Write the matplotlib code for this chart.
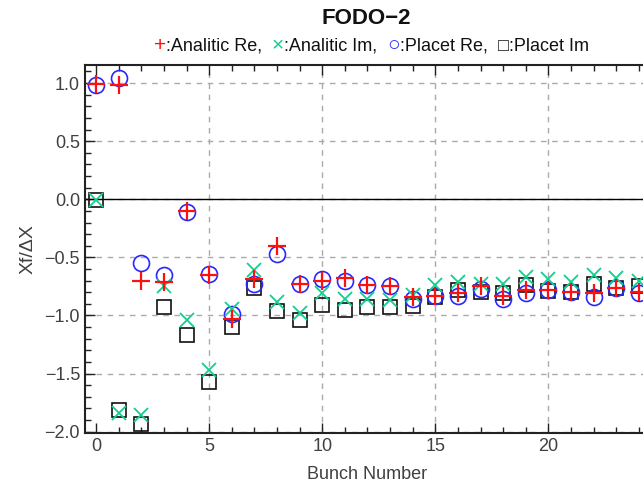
import matplotlib
matplotlib.use("Agg")
import matplotlib.pyplot as plt
from matplotlib.ticker import MultipleLocator
from matplotlib.offsetbox import TextArea, HPacker, AnchoredOffsetbox

plt.rcParams['font.family'] = ['Liberation Sans', 'DejaVu Sans']

bunch = list(range(25))

analitic_re = [0.99, 0.98, -0.70, -0.71, -0.10, -0.65, -1.03, -0.69, -0.40, -0.73,
               -0.70, -0.68, -0.74, -0.75, -0.84, -0.83, -0.81, -0.75, -0.83, -0.78,
               -0.78, -0.80, -0.81, -0.76, -0.80]
analitic_im = [-0.01, -1.84, -1.86, -0.75, -1.04, -1.47, -0.94, -0.61, -0.88, -0.98,
               -0.81, -0.86, -0.86, -0.87, -0.82, -0.74, -0.71, -0.73, -0.73, -0.67,
               -0.69, -0.71, -0.65, -0.68, -0.70]
placet_re = [0.985, 1.04, -0.55, -0.65, -0.11, -0.64, -0.99, -0.73, -0.47, -0.73,
             -0.69, -0.70, -0.74, -0.75, -0.86, -0.83, -0.83, -0.77, -0.86, -0.81,
             -0.78, -0.80, -0.84, -0.76, -0.81]
placet_im = [-0.01, -1.81, -1.93, -0.93, -1.17, -1.57, -1.10, -0.76, -0.96, -1.04,
             -0.91, -0.95, -0.93, -0.93, -0.92, -0.84, -0.78, -0.80, -0.81, -0.74,
             -0.79, -0.80, -0.73, -0.76, -0.75]

red = '#ff1010'
green = '#10d090'
blue = '#2828ff'
txt = '#404040'

fig = plt.figure(figsize=(6.43, 4.93), dpi=100)
ax = fig.add_axes([0.132, 0.122, 0.879, 0.746])

ax.axhline(0, color='black', lw=1.0, zorder=1.5)

ax.plot(bunch, placet_im, 's', ms=10, mfc='none', mec='#111111', mew=1.2, zorder=2)
ax.plot(bunch, placet_re, 'o', ms=11.5, mfc='none', mec=blue, mew=1.2, zorder=3)
ax.plot(bunch, analitic_im, 'x', ms=10, color=green, mew=1.3, zorder=4)
ax.plot(bunch, analitic_re, '+', ms=12.5, color=red, mew=1.6, zorder=5)

ax.set_xlim(-0.5, 24.5)
ax.set_ylim(-2.01, 1.155)
ax.xaxis.set_major_locator(MultipleLocator(5))
ax.xaxis.set_minor_locator(MultipleLocator(1))
ax.yaxis.set_major_locator(MultipleLocator(0.5))
ax.yaxis.set_minor_locator(MultipleLocator(0.1))
ax.tick_params(which='both', direction='in', top=True, right=False,
               colors='#222222', labelcolor=txt, labelsize=13, width=1.0)
ax.tick_params(which='major', length=7)
ax.tick_params(which='minor', length=4)
ax.set_xticks([0, 5, 10, 15, 20])
ax.set_axisbelow(True)
ax.grid(True, which='major', color='#aaaaaa', ls=(0, (4, 4)), lw=1.0)
ax.xaxis.get_gridlines()[0].set_visible(False)
for s in ['left', 'bottom', 'top']:
    ax.spines[s].set_color('#222222')
    ax.spines[s].set_linewidth(1.5)
ax.spines['right'].set_visible(False)

ax.set_xlabel('Bunch Number', fontsize=13, color=txt, labelpad=8)
ax.set_ylabel('Xf/ΔX', fontsize=14, color=txt, labelpad=6)

fig.text(0.57, 0.962, 'FODO−2', ha='center', va='center', fontsize=16,
         fontweight='bold', color='#111111')

parts = [('+', red, 15), (':Analitic Re,  ', '#111111', 13),
         ('×', green, 15), (':Analitic Im,  ', '#111111', 13),
         ('○', blue, 15), (':Placet Re,  ', '#111111', 13),
         ('□', '#111111', 13), (':Placet Im', '#111111', 13)]
boxes = [TextArea(t, textprops=dict(color=c, fontsize=fs,
                                    family=['Liberation Sans', 'DejaVu Sans']))
         for t, c, fs in parts]
pack = HPacker(children=boxes, align='baseline', pad=0, sep=0)
anch = AnchoredOffsetbox(loc='center', child=pack, frameon=False,
                         bbox_to_anchor=(0.577, 0.908), bbox_transform=fig.transFigure,
                         borderpad=0, pad=0)
fig.add_artist(anch)

fig.savefig('out.png', dpi=100)
